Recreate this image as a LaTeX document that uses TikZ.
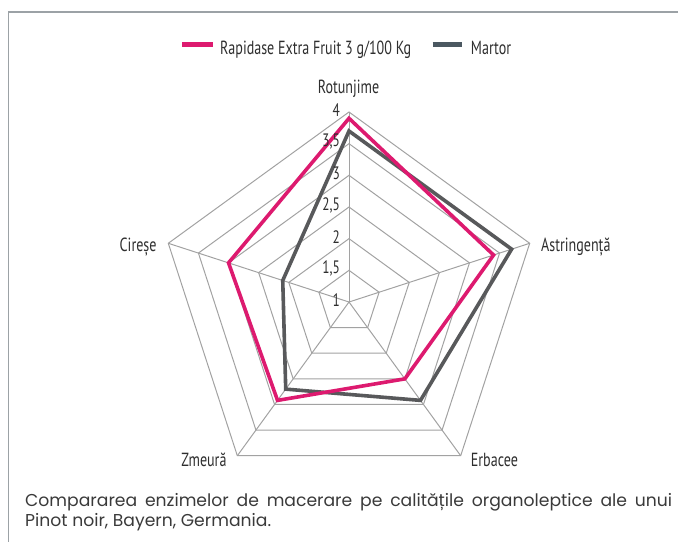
\documentclass[tikz,border=0pt]{standalone}
\usepackage{fontspec}
\newfontfamily\condfont[FakeStretch=0.74]{PT Sans}
\newfontfamily\capfont{Poppins}
\definecolor{rapipink}{HTML}{DD1A6F}
\definecolor{martorgray}{HTML}{58595B}
\definecolor{leggray}{HTML}{4B5861}
\definecolor{gridgray}{HTML}{A2A2A2}
\definecolor{framegray}{HTML}{9CA2A6}
\definecolor{textdark}{HTML}{2E2E2E}
\definecolor{captext}{HTML}{3A3A3A}
\begin{document}
\begin{tikzpicture}[x=1pt,y=-1pt,
  grid/.style={draw=gridgray, line width=1pt},
  frameline/.style={draw=framegray, line width=1.6pt},
  serA/.style={draw=rapipink, line width=3.6pt, line join=miter},
  serB/.style={draw=martorgray, line width=3.6pt, line join=miter},
  lab/.style={font=\condfont\fontsize{19}{21}\selectfont, text=textdark, inner sep=0pt},
  ticklab/.style={font=\condfont\fontsize{18}{20}\selectfont, text=textdark, inner sep=0pt, anchor=east},
  capt/.style={font=\capfont\fontsize{17.2}{21}\selectfont, text=captext, inner sep=0pt, anchor=base west, align=left}]
\useasboundingbox (0,0) rectangle (679,542);
\draw[frameline] (678,12) -- (8.5,12) -- (8.5,542);
% legend
\coordinate (lp1) at (182,44.7); \coordinate (lp2) at (213,44.7);
\draw[draw=rapipink, line width=5pt] (lp1) -- (lp2);
\node[lab, anchor=base west] (legA) at (220,54.3) {Rapidase Extra Fruit 3 g/100 Kg};
\coordinate (lg1) at (432.7,44.7); \coordinate (lg2) at (462.3,44.7);
\draw[draw=leggray, line width=5pt] (lg1) -- (lg2);
\node[lab, anchor=base west] (legB) at (470.7,54.3) {Martor};
% radar
\begin{scope}[shift={(349,302)}]
  \coordinate (O) at (0,0);
  \foreach \i in {1,...,6}{
    \draw[grid] (270:{\i*31.6667}) -- (342:{\i*31.6667}) -- (54:{\i*31.6667}) -- (126:{\i*31.6667}) -- (198:{\i*31.6667}) -- cycle;
  }
  \foreach \a/\n in {270/rot,342/ast,54/erb,126/zme,198/cir}{
    \coordinate (ax\n) at (\a:190);
    \draw[grid] (O) -- (ax\n);
  }
  % series Rapidase
  \coordinate (a1) at (270:{(3.9-1)*63.333});
  \coordinate (a2) at (342:{(3.4-1)*63.333});
  \coordinate (a3) at (54:{(2.5-1)*63.333});
  \coordinate (a4) at (126:{(2.92-1)*63.333});
  \coordinate (a5) at (198:{(3.0-1)*63.333});
  % series Martor
  \coordinate (b1) at (270:{(3.7-1)*63.333});
  \coordinate (b2) at (342:{(3.7-1)*63.333});
  \coordinate (b3) at (54:{(2.92-1)*63.333});
  \coordinate (b4) at (126:{(2.7-1)*63.333});
  \coordinate (b5) at (198:{(2.1-1)*63.333});
  \draw[serB] (b1) -- (b2) -- (b3) -- (b4) -- (b5) -- cycle;
  \draw[serA] (a1) -- (a2) -- (a3) -- (a4) -- (a5) -- cycle;
\end{scope}
% tick labels
\node[ticklab] (t1) at (340,300) {1};
\node[ticklab] (t15) at (340,268.3) {1,5};
\node[ticklab] (t2) at (340,236.7) {2};
\node[ticklab] (t25) at (340,205) {2,5};
\node[ticklab] (t3) at (340,173.3) {3};
\node[ticklab] (t35) at (340,141.7) {3,5};
\node[ticklab] (t4) at (340,110) {4};
% axis labels
\node[lab, anchor=base] (lrot) at (348.5,93) {Rotunjime};
\node[lab, anchor=base east] (lcir) at (156.7,251.5) {Cireșe};
\node[lab, anchor=base west] (last) at (541,251.5) {Astringență};
\node[lab, anchor=base east] (lzme) at (226.7,466.7) {Zmeură};
\node[lab, anchor=base west] (lerb) at (470.7,466.7) {Erbacee};
% caption
\node[capt] (cap1) at (25,506) {\makebox[647pt][s]{Compararea enzimelor de macerare pe calitățile organoleptice ale unui}};
\node[capt] (cap2) at (25,526.7) {Pinot noir, Bayern, Germania.};
\end{tikzpicture}
\end{document}
